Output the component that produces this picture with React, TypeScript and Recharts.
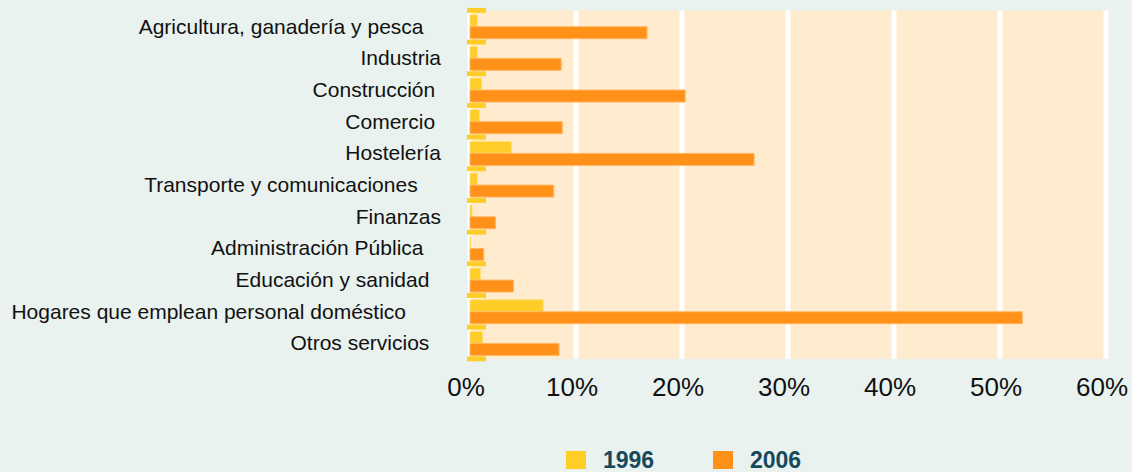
import { BarChart, Bar, XAxis, YAxis, CartesianGrid, Legend } from 'recharts';

// Sectores (los espacios finales reproducen la alineación de las etiquetas originales)
const sectores = [
  'Agricultura, ganadería y pesca\u00A0\u00A0\u00A0',
  'Industria',
  'Construcción\u00A0',
  'Comercio\u00A0',
  'Hostelería',
  'Transporte y comunicaciones\u00A0\u00A0\u00A0\u00A0',
  'Finanzas',
  'Administración Pública\u00A0\u00A0\u00A0',
  'Educación y sanidad\u00A0\u00A0',
  'Hogares que emplean personal doméstico\u00A0\u00A0\u00A0\u00A0\u00A0\u00A0',
  'Otros servicios\u00A0\u00A0',
];

// % de extranjeros sobre el total de ocupados por sector
const valores1996 = [0.7, 0.7, 1.1, 0.9, 3.9, 0.7, 0.2, 0.1, 1.0, 6.9, 1.2];
const valores2006 = [16.7, 8.6, 20.3, 8.7, 26.8, 7.9, 2.4, 1.3, 4.1, 52.1, 8.4];

const ticksX = [0, 10, 20, 30, 40, 50, 60];

const AMARILLO = '#FFCD28';
const NARANJA = '#FF9119';
const FONDO = '#E9F2EE';
const FONDO_GRAFICO = '#FFEBCE';
const FUENTE = '"Liberation Sans", Arial, sans-serif';

const ANCHO = 1132;
const ALTO = 472;
const PLOT_IZQ = 470;
const PLOT_ARRIBA = 10.4;
const PLOT_ALTO = 348.4;
const BANDA = PLOT_ALTO / sectores.length;

const datos = sectores.map((s, i) => ({
  sector: s,
  a1996: valores1996[i],
  a2006: valores2006[i],
}));

function EtiquetaSector(props: any) {
  const { x, y, payload, index } = props;
  const mitad = BANDA / 2;
  return (
    <g>
      <text
        x={x}
        y={y}
        dy="0.355em"
        textAnchor="end"
        fontSize={21}
        fontFamily={FUENTE}
        fill="#111"
      >
        {payload.value}
      </text>
      <rect x={PLOT_IZQ - 3} y={y - mitad - 2.5} width={19} height={5} fill={AMARILLO} />
      {index === sectores.length - 1 && (
        <rect x={PLOT_IZQ - 3} y={y + mitad - 2.5} width={19} height={5} fill={AMARILLO} />
      )}
    </g>
  );
}

function Leyenda(props: any) {
  const { payload } = props;
  return (
    <div style={{ display: 'flex', fontFamily: FUENTE }}>
      {(payload || []).map((p: any) => (
        <div key={p.value} style={{ display: 'flex', alignItems: 'center', width: 147 }}>
          <span style={{ width: 20, height: 18, background: p.color, display: 'inline-block' }} />
          <span
            style={{
              marginLeft: 17,
              fontSize: 23,
              fontWeight: 'bold',
              color: '#17495C',
              lineHeight: '26px',
            }}
          >
            {p.value}
          </span>
        </div>
      ))}
    </div>
  );
}

export default function App() {
  return (
    <div style={{ position: 'absolute', left: 0, top: 0, width: ANCHO, height: ALTO, background: FONDO }}>
      <BarChart
        width={ANCHO}
        height={ALTO}
        data={datos}
        layout="vertical"
        margin={{ top: PLOT_ARRIBA, right: 26, left: 0, bottom: ALTO - PLOT_ARRIBA - PLOT_ALTO - 60 }}
        barCategoryGap={4.3}
        barGap={0}
      >
        <CartesianGrid
          horizontal={false}
          vertical
          stroke="#FFFFFF"
          strokeWidth={5}
          fill={FONDO_GRAFICO}
          fillOpacity={1}
        />
        <XAxis
          type="number"
          domain={[0, 60]}
          ticks={ticksX}
          tickFormatter={(v: number) => `${v}%`}
          axisLine={false}
          tickLine={false}
          tickSize={0}
          tickMargin={19}
          height={60}
          dx={-4}
          tick={{ fontSize: 26, fill: '#111', fontFamily: FUENTE }}
        />
        <YAxis
          type="category"
          dataKey="sector"
          width={PLOT_IZQ}
          axisLine={false}
          tickLine={false}
          tickSize={0}
          tickMargin={29}
          interval={0}
          tick={<EtiquetaSector />}
        />
        <Bar
          dataKey="a1996"
          name="1996"
          fill={AMARILLO}
          stroke="#FFE07A"
          strokeWidth={1}
          isAnimationActive={false}
        />
        <Bar
          dataKey="a2006"
          name="2006"
          fill={NARANJA}
          stroke="#FFB763"
          strokeWidth={1}
          isAnimationActive={false}
        />
        <Legend
          layout="horizontal"
          verticalAlign="middle"
          align="center"
          content={<Leyenda />}
          wrapperStyle={{ left: 566, top: 447, width: 320, height: 26 }}
        />
      </BarChart>
    </div>
  );
}
